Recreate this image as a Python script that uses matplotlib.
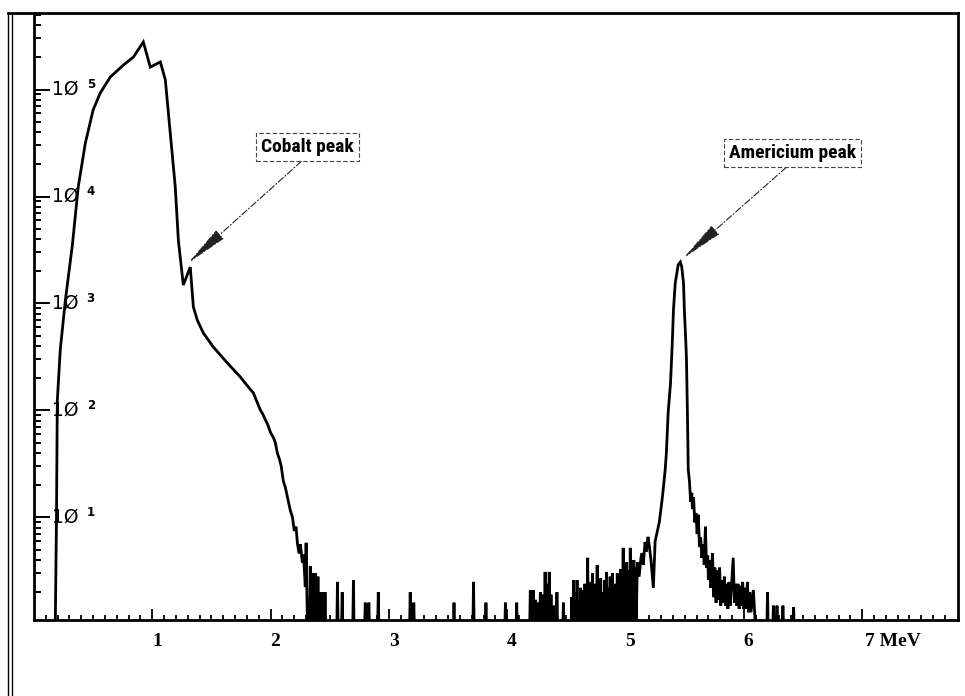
"""
Pulse-height spectrum (log counts vs energy) with cobalt and americium peaks.
"""

import numpy as np
import matplotlib.pyplot as plt
from matplotlib import font_manager as fm
from matplotlib.lines import Line2D
from matplotlib.ticker import FixedLocator, LogLocator, NullFormatter

# ---- Data ----
# Cobalt region: continuous curve (MeV, counts)
co_energy = [0.18, 0.19, 0.197, 0.222, 0.265, 0.324, 0.374, 0.434, 0.50, 0.56,
             0.645, 0.755, 0.84, 0.924, 0.983, 1.068, 1.11, 1.152, 1.194, 1.22,
             1.262, 1.321, 1.347, 1.38, 1.431, 1.516, 1.634, 1.744, 1.80, 1.854,
             1.913, 1.935, 1.955, 1.975, 2.0, 2.023, 2.04, 2.057, 2.075, 2.09,
             2.107, 2.125, 2.145, 2.166, 2.185, 2.2, 2.215, 2.226, 2.24, 2.252,
             2.268, 2.278, 2.293, 2.30, 2.31]
co_counts = [1.0, 10, 123, 370, 1070, 3500, 12300, 31600, 64500, 92700,
             131000, 169000, 201000, 278000, 162000, 181000, 123000, 39200, 12300, 3920,
             1490, 2190, 928, 701, 530, 392, 278, 206, 172, 146,
             101, 92, 82, 74, 62, 56, 50, 40, 35, 30,
             22, 19, 15, 11.7, 10, 7.5, 8.2, 5.8, 4.6, 5.6,
             3.8, 4.5, 2.24, 5.8, 1.17]

# Americium region: peak plus noisy flanks (MeV, counts)
am_energy = [5.10, 5.115, 5.13, 5.14, 5.15, 5.165, 5.175, 5.19, 5.20, 5.215,
             5.235, 5.25, 5.27, 5.285, 5.295, 5.31, 5.32, 5.335, 5.345, 5.36,
             5.38, 5.395, 5.405, 5.42, 5.445, 5.463, 5.475, 5.49, 5.497, 5.51,
             5.515, 5.523, 5.53, 5.54, 5.55, 5.56, 5.565, 5.575, 5.585, 5.595,
             5.605, 5.615, 5.625, 5.635, 5.645, 5.655, 5.665, 5.675, 5.685, 5.695,
             5.70, 5.71, 5.72, 5.735, 5.745, 5.755, 5.765, 5.775, 5.785, 5.795,
             5.805, 5.815, 5.825, 5.835, 5.845, 5.855, 5.865, 5.875, 5.885, 5.895,
             5.91, 5.92, 5.93, 5.94, 5.95, 5.96, 5.97, 5.98, 5.99, 6.00,
             6.01, 6.02, 6.03, 6.04, 6.05, 6.06, 6.08, 6.095]
am_counts = [3.8, 2.8, 4.2, 4.65, 3.6, 5.9, 4.8, 6.6, 5.5, 4.0,
             2.2, 6.0, 7.6, 9.0, 11, 15, 19, 28, 40, 95,
             180, 430, 870, 1550, 2300, 2440, 2200, 1550, 870, 420,
             300, 95, 28, 22, 14, 17, 12, 15.5, 9, 11,
             7, 10.6, 5.3, 6.5, 4.2, 5.6, 3.6, 8.2, 3.4, 4.4,
             2.6, 4.0, 2.2, 4.65, 1.8, 3.4, 1.6, 3.2, 1.7, 3.4,
             1.5, 2.6, 1.6, 2.8, 1.5, 2.4, 1.4, 2.5, 1.5, 2.3,
             4.2, 1.6, 2.4, 1.5, 2.4, 1.4, 2.3, 1.5, 2.5, 1.4,
             2.2, 1.4, 2.5, 1.3, 2.0, 1.3, 2.1, 1.1]

# Isolated noise spikes in the empty channels (MeV, counts)
spike_energy = [2.335, 2.35, 2.36, 2.38, 2.39, 2.40, 2.42, 2.44, 2.46, 2.565,
                2.605, 2.70, 2.80, 2.83, 2.91, 3.18, 3.21, 3.55, 3.715, 3.82,
                3.985, 4.08, 4.195, 4.205, 4.22, 4.24, 4.265, 4.28, 4.30, 4.32,
                4.335, 4.345, 4.355, 4.37, 4.39, 4.42, 4.475, 4.545, 4.56, 4.575,
                4.59, 4.605, 4.62, 4.64, 4.655, 4.68, 4.695, 4.71, 4.72, 4.735,
                4.76, 4.775, 4.79, 4.81, 4.825, 4.84, 4.855, 4.87, 4.89, 4.905,
                4.93, 4.945, 4.96, 4.98, 4.995, 5.01, 5.025, 5.04, 5.055, 5.07,
                5.085, 6.20, 6.25, 6.28, 6.33, 6.42]
spike_counts = [3.5, 2.2, 3.0, 3.0, 2.0, 2.8, 2.0, 2.0, 2.0, 2.5,
                2.0, 2.6, 1.6, 1.6, 2.0, 2.0, 1.6, 1.6, 2.5, 1.6,
                1.6, 1.6, 2.1, 1.8, 2.1, 1.7, 1.6, 2.0, 1.9, 3.1,
                2.2, 2.4, 3.1, 1.9, 1.5, 2.0, 1.6, 1.8, 2.6, 2.0,
                2.6, 1.7, 2.2, 2.1, 2.4, 4.2, 2.5, 2.2, 3.0, 2.4,
                3.6, 2.3, 2.7, 2.0, 2.6, 3.1, 2.2, 2.8, 3.0, 2.4,
                3.0, 2.6, 3.3, 5.2, 3.0, 3.8, 3.2, 5.2, 3.5, 4.0,
                3.4, 2.0, 1.5, 1.5, 1.5, 1.45]

x_ticks = [1, 2, 3, 4, 5, 6, 7]
x_tick_labels = ["1", "2", "3", "4", "5", "6", "7 MeV"]
y_decades = [1, 2, 3, 4, 5]

annotations = [("Cobalt peak", 1.305, 2400, 2.31, 29000),
               ("Americium peak", 5.49, 2660, 6.41, 25500)]


def pick_font(names):
    for n in names:
        try:
            fm.findfont(fm.FontProperties(family=n), fallback_to_default=False)
            return n
        except ValueError:
            pass
    return "DejaVu Sans"


def build_spectrum():
    """Join the continuous pieces and the spike triangles into one trace."""
    floor = 1.0
    w = 0.005
    xs = [0.0] + list(co_energy)
    ys = [floor] + list(co_counts)
    for e, c in zip(spike_energy, spike_counts):
        if e < am_energy[0]:
            xs += [e - w, e, e + w]
            ys += [floor, c, floor]
    xs += list(am_energy)
    ys += list(am_counts)
    for e, c in zip(spike_energy, spike_counts):
        if e > am_energy[-1]:
            xs += [e - w, e, e + w]
            ys += [floor, c, floor]
    xs.append(7.8)
    ys.append(floor)
    return np.array(xs), np.array(ys)


def main():
    narrow = pick_font(["Liberation Sans Narrow", "Roboto Condensed", "DejaVu Sans"])
    serif = pick_font(["Liberation Serif", "DejaVu Serif"])

    W, H = 965, 696
    fig = plt.figure(figsize=(W / 100, H / 100), dpi=100)
    left, right, top, bottom = 34, 958, 13, 620
    ax = fig.add_axes([left / W, 1 - bottom / H, (right - left) / W, (bottom - top) / H])

    x, y = build_spectrum()
    ax.plot(x, y, color="black", lw=2.0, solid_joinstyle="miter")

    ax.set_yscale("log")
    ax.set_xlim(0, 7.81)
    ax.set_ylim(10 ** 0.042, 10 ** 5.715)

    for s in ax.spines.values():
        s.set_linewidth(2.0)

    # x ticks: integers long, tenths short, pointing into the plot
    ax.xaxis.set_major_locator(FixedLocator(x_ticks))
    ax.xaxis.set_minor_locator(FixedLocator(np.arange(0.1, 7.8, 0.1)))
    ax.tick_params(axis="x", which="major", direction="in", length=8, width=1.3,
                   labelbottom=False)
    ax.tick_params(axis="x", which="minor", direction="in", length=3.5, width=1.3)

    # y ticks: decades long, 2..9 short
    ax.yaxis.set_major_locator(LogLocator(base=10, numticks=10))
    ax.yaxis.set_minor_locator(LogLocator(base=10, subs=np.arange(2, 10), numticks=20))
    ax.yaxis.set_major_formatter(NullFormatter())
    ax.yaxis.set_minor_formatter(NullFormatter())
    ax.tick_params(axis="y", which="major", direction="in", length=11.5, width=1.4)
    ax.tick_params(axis="y", which="minor", direction="in", length=5, width=1.4)

    # x labels under the axis
    xt = ax.get_xaxis_transform()
    for v, lab in zip(x_ticks, x_tick_labels):
        if lab.endswith("MeV"):
            ax.text(v + 0.02, -0.036, lab, transform=xt, ha="left", va="center",
                    fontsize=14, fontweight="bold", family=[serif, "DejaVu Serif"])
        else:
            ax.text(v + 0.04, -0.036, lab, transform=xt, ha="center", va="center",
                    fontsize=14, fontweight="bold", family=[serif, "DejaVu Serif"])

    # y labels drawn inside, plotter style "1Ø" with raised exponent
    yt = ax.get_yaxis_transform()
    for k in y_decades:
        ax.text(0.0195, 10 ** k, "1Ø", transform=yt, ha="left", va="center",
                fontsize=13.5, family="DejaVu Sans")
        ax.text(0.057, 10 ** (k + 0.05), str(k), transform=yt, ha="left",
                va="center", fontsize=8.5, family="DejaVu Sans", fontweight="bold")

    # peak call-outs
    for label, px, py, tx, ty in annotations:
        ax.annotate(label, xy=(px, py), xytext=(tx, ty),
                    ha="center", va="center", fontsize=14, fontweight="bold",
                    family=[narrow, "DejaVu Sans"],
                    bbox=dict(boxstyle="square,pad=0.25", fc="white", ec="#444",
                              lw=0.8, ls=(0, (4, 2))),
                    arrowprops=dict(arrowstyle="-|>,head_length=2.7,head_width=0.36",
                                    mutation_scale=10, color="#222", lw=0.8,
                                    ls=(0, (6, 2, 1, 2)), shrinkA=0, shrinkB=0,
                                    relpos=(0.5, 0.0)))

    # page frame around the plot
    for fx in (8, 12):
        fig.add_artist(Line2D([fx / W, fx / W], [0, 1 - top / H],
                              transform=fig.transFigure, color="black", lw=1.0))
    fig.add_artist(Line2D([8 / W, left / W], [1 - top / H, 1 - top / H],
                          transform=fig.transFigure, color="black", lw=2.0))

    fig.savefig("out.png", dpi=100)


if __name__ == "__main__":
    main()
